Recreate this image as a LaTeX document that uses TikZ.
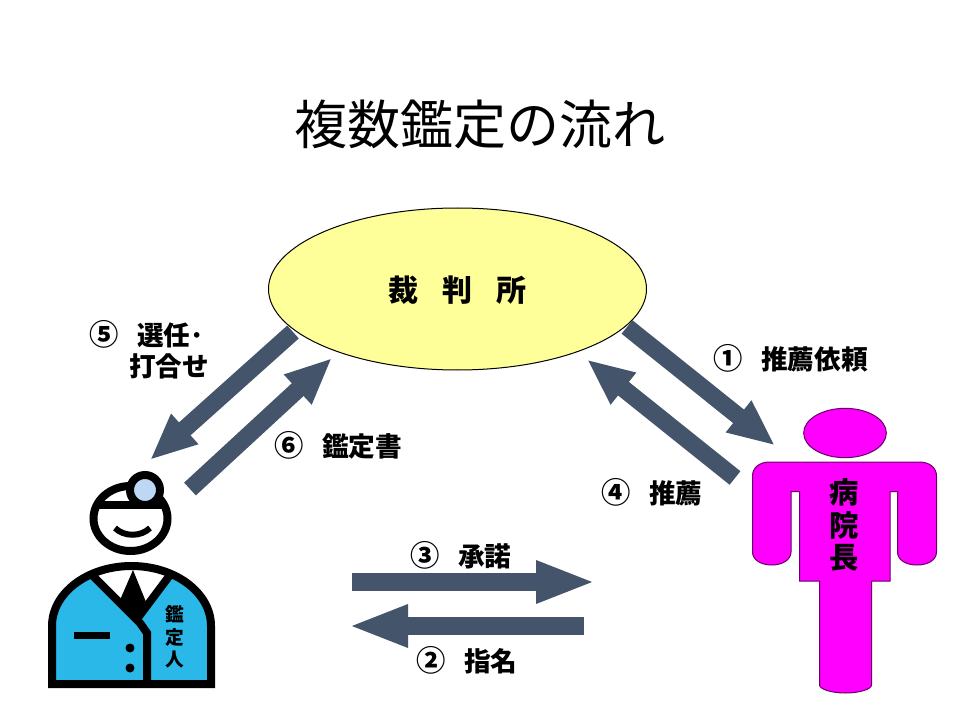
\documentclass[tikz,border=0pt]{standalone}
\usepackage{fontspec}
\usetikzlibrary{arrows.meta,shapes.geometric}
\newfontfamily\cjk{Noto Sans CJK JP}
\definecolor{arrowc}{HTML}{44546A}
\definecolor{ovalc}{HTML}{FFFF99}
\definecolor{coatc}{HTML}{29B8E8}
\definecolor{lensc}{HTML}{BDD7F5}
\definecolor{mag}{HTML}{FF00FF}
\definecolor{magline}{HTML}{660066}
\newcommand{\circd}[1]{{\fontsize{22pt}{24pt}\selectfont #1}\hspace{0.7em}}
\tikzset{
  lab/.style={font=\cjk\bfseries\fontsize{20pt}{24pt}\selectfont,inner sep=0pt,text=black},
  diag/.style={draw=arrowc,line width=13pt,-{Triangle[length=35pt,width=28pt,color=arrowc]}},
  horiz/.style={draw=arrowc,line width=13.5pt,-{Triangle[length=45pt,width=29pt,color=arrowc]}},
  blk/.style={draw=black,line width=6pt},
}
\begin{document}
\begin{tikzpicture}[x=0.75pt,y=-0.75pt]
\useasboundingbox (0,0) rectangle (960,720);
\fill[white] (0,0) rectangle (960,720);
% title
\node[inner sep=0pt,font=\cjk\fontsize{39.75pt}{44pt}\selectfont] (title) at (480,124) {複数鑑定の流れ};
% court
\node[ellipse,draw=black,line width=0.75pt,fill=ovalc,minimum width=283.5pt,minimum height=121.5pt,inner sep=0pt] (court) at (457.5,289) {};
\node[inner sep=0pt,font=\cjk\bfseries\fontsize{22.5pt}{26pt}\selectfont] (courtt) at (457,290) {裁\hspace{0.8em}判\hspace{0.8em}所};
% arrows
\coordinate (a1s) at (627,327); \coordinate (a1e) at (775,445.5);
\coordinate (a4s) at (735,478); \coordinate (a4e) at (587,359.5);
\coordinate (a5s) at (293,332); \coordinate (a5e) at (150,460);
\coordinate (a6s) at (190,489); \coordinate (a6e) at (332,358);
\coordinate (a3s) at (352,582); \coordinate (a3e) at (596,582);
\coordinate (a2s) at (584,626); \coordinate (a2e) at (348,626);
\draw[diag] (a1s) -- (a1e);
\draw[diag] (a4s) -- (a4e);
\draw[diag] (a5s) -- (a5e);
\draw[diag] (a6s) -- (a6e);
\draw[horiz] (a3s) -- (a3e);
\draw[horiz] (a2s) -- (a2e);
% labels
\node[lab,anchor=west] (l1) at (713,358) {\circd{①}推薦依頼};
\node[lab,anchor=west] (l5a) at (89,334) {\circd{⑤}選任･};
\node[lab,anchor=west] (l5b) at (129,366) {打合せ};
\node[lab,anchor=west] (l6) at (274,445) {\circd{⑥}鑑定書};
\node[lab,anchor=west] (l4) at (601,492) {\circd{④}推薦};
\node[lab,anchor=west] (l3) at (410,555) {\circd{③}承諾};
\node[lab,anchor=west] (l2) at (416,660) {\circd{②}指名};
% doctor head
\draw[blk,fill=white] (130.5,518.5) ellipse[x radius=37,y radius=32.5];
\draw[blk] (97,505) -- (164,505);
\draw[blk,fill=lensc] (145,490) circle (15);
\draw[black,line width=4.5pt] (115,528) .. controls (124,537) and (141,537) .. (150,528);
% doctor body
\path[fill=coatc] (52,684) -- (52,626) arc[start angle=180,end angle=360,x radius=79.5,y radius=60] -- (211,684) -- cycle;
\fill[white] (92,577) -- (133,620) -- (171,577) .. controls (150,564) and (113,564) .. (92,577) -- cycle;
\draw[blk] (92,575) -- (140,623) -- (147,633) -- (147,684);
\draw[blk] (170,575) -- (137,619);
\draw[blk] (52,684) -- (52,626) arc[start angle=180,end angle=360,x radius=79.5,y radius=60] -- (211,684) -- cycle;
\fill[black] (133,570) -- (146,602) -- (134,618) -- (120,600) -- cycle;
\fill[black] (74,632) rectangle (110,639);
\fill[black] (130,648) circle (4.5);
\fill[black] (130,668) circle (4.5);
\node[inner sep=0pt,align=center,font=\cjk\bfseries\fontsize{14pt}{17pt}\selectfont] (docname) at (175,637) {鑑\\定\\人};
% hospital director
\node[ellipse,draw=magline,line width=0.75pt,fill=mag,minimum width=62pt,minimum height=37pt,inner sep=0pt] (phead) at (845,433) {};
\draw[draw=magline,line width=0.75pt,fill=mag]
  (770,462) -- (919,462)
  .. controls (930,462) and (936.5,468) .. (936.5,476)
  -- (936.5,552)
  .. controls (936.5,560) and (928,565) .. (917,565)
  .. controls (906,565) and (897.5,560) .. (897.5,552)
  -- (897.5,491.5) -- (890,491.5) -- (890,581) -- (871.5,581)
  -- (871.5,685) .. controls (871.5,689) and (860,693) .. (845.5,693)
  .. controls (831,693) and (819.5,689) .. (819.5,685)
  -- (819.5,581) -- (799.5,581) -- (799.5,491.5) -- (791,491.5)
  -- (791,552)
  .. controls (791,560) and (782,565) .. (772,565)
  .. controls (761,565) and (752.5,560) .. (752.5,552)
  -- (752.5,476)
  .. controls (752.5,468) and (759,462) .. (770,462) -- cycle;
\node[inner sep=0pt,font=\cjk\bfseries\fontsize{22pt}{26pt}\selectfont] (pt1) at (844,492) {病};
\node[inner sep=0pt,font=\cjk\bfseries\fontsize{22pt}{26pt}\selectfont] (pt2) at (844,525) {院};
\node[inner sep=0pt,font=\cjk\bfseries\fontsize{22pt}{26pt}\selectfont] (pt3) at (844,558) {長};
\end{tikzpicture}
\end{document}
